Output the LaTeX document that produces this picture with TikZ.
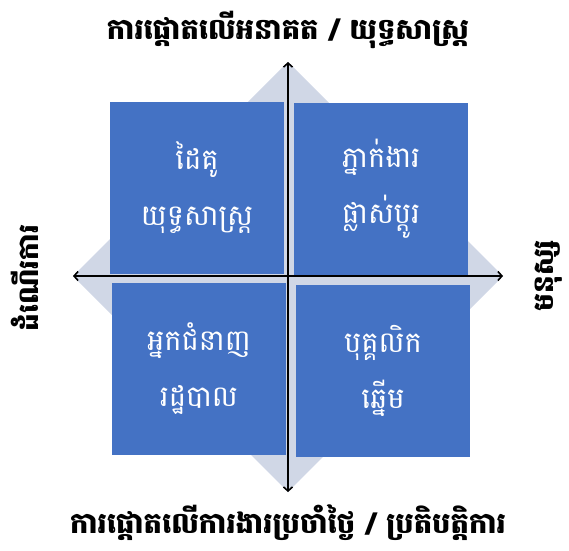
\documentclass[tikz,border=0pt]{standalone}
\usepackage{fontspec}
\newfontfamily\khmer[Script=Khmer]{Battambang}
\usetikzlibrary{arrows.meta}
\definecolor{quadblue}{HTML}{4472C4}
\definecolor{diamondgray}{HTML}{D0D7E6}

\begin{document}
\begin{tikzpicture}[
  x=1pt, y=-1pt,
  font=\khmer,
  quad/.style={fill=quadblue, text=white, align=center, inner sep=0pt,
    minimum width=174pt, minimum height=172pt, font=\khmer\fontsize{29}{56}\selectfont},
  heading/.style={font=\khmer\bfseries\fontsize{29}{34}\selectfont},
  side/.style={font=\khmer\bfseries\fontsize{28}{34}\selectfont, rotate=90},
  axis/.style={{Straight Barb[length=4pt,width=9pt]}-{Straight Barb[length=4pt,width=9pt]}, line width=1.6pt}
]
\useasboundingbox (0,0) rectangle (569,550);

% cross points of the two axes
\coordinate (ntip) at (288,62);
\coordinate (stip) at (288,492);
\coordinate (wtip) at (73,276);
\coordinate (etip) at (503,276);

% diamond behind the quadrants
\fill[diamondgray] (ntip) -- (etip) -- (stip) -- (wtip) -- cycle;

\node[quad] (partner) at (197,187.5) {ដៃគូ\\យុទ្ធសាស្ត្រ};
\node[quad] (change) at (381,188.5) {ភ្នាក់ងារ\\ផ្លាស់ប្តូរ};
\node[quad] (expert) at (199,369) {អ្នកជំនាញ\\រដ្ឋបាល};
\node[quad] (champion) at (383,371) {បុគ្គលិក\\ឆ្នើម};

\draw[axis] (stip) -- (ntip);
\draw[axis] (wtip) -- (etip);

\node[heading] (future) at (288,30) {ការផ្តោតលើអនាគត / យុទ្ធសាស្ត្រ};
\node[heading] (daily) at (288,523) {ការផ្តោតលើការងារប្រចាំថ្ងៃ / ប្រតិបត្តិការ};
\node[side] (process) at (25,278) {ដំណើរការ};
\node[side] (people) at (549,276) {មនុស្ស};

\end{tikzpicture}
\end{document}
